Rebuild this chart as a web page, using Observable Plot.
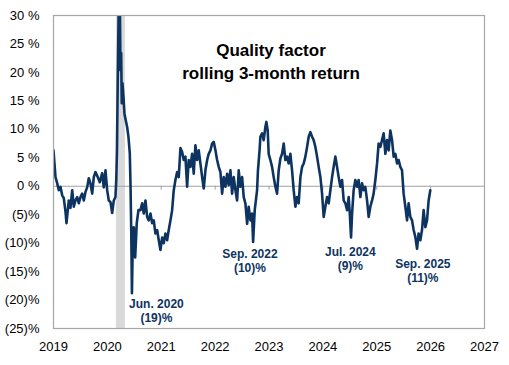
<!DOCTYPE html>
<html>
<head>
<meta charset="utf-8">
<script src="https://cdn.jsdelivr.net/npm/d3@7"></script>
<script src="https://cdn.jsdelivr.net/npm/@observablehq/plot@0.6"></script>
<style>
  html, body { margin: 0; padding: 0; background: #fff; }
  #chart { width: 509px; height: 365px; }
</style>
</head>
<body>
<div id="chart"></div>
<script>
const titleLines = ["Quality factor", "rolling 3-month return"];

// decimal-year dates
const dates = [
  2019.000, 2019.037, 2019.069, 2019.098, 2019.130, 2019.161, 2019.191, 2019.223, 2019.241, 2019.284,
  2019.315, 2019.347, 2019.377, 2019.408, 2019.440, 2019.469, 2019.501, 2019.532, 2019.562, 2019.594,
  2019.625, 2019.655, 2019.686, 2019.718, 2019.748, 2019.779, 2019.822, 2019.859, 2019.904, 2019.933,
  2019.965, 2019.996, 2020.026, 2020.058, 2020.089, 2020.119, 2020.150, 2020.165, 2020.178, 2020.193,
  2020.211, 2020.230, 2020.243, 2020.256, 2020.267, 2020.280, 2020.299, 2020.317, 2020.341, 2020.367,
  2020.392, 2020.416, 2020.429, 2020.442, 2020.456, 2020.471, 2020.490, 2020.516, 2020.545, 2020.577,
  2020.614, 2020.646, 2020.675, 2020.707, 2020.738, 2020.768, 2020.800, 2020.831, 2020.861, 2020.892,
  2020.924, 2020.954, 2020.985, 2021.017, 2021.046, 2021.078, 2021.109, 2021.139, 2021.171, 2021.202,
  2021.232, 2021.263, 2021.295, 2021.325, 2021.356, 2021.388, 2021.417, 2021.449, 2021.480, 2021.510,
  2021.542, 2021.573, 2021.603, 2021.634, 2021.666, 2021.696, 2021.727, 2021.759, 2021.789, 2021.820,
  2021.852, 2021.881, 2021.913, 2021.944, 2021.974, 2022.006, 2022.037, 2022.067, 2022.098, 2022.130,
  2022.160, 2022.191, 2022.223, 2022.252, 2022.284, 2022.315, 2022.345, 2022.377, 2022.408, 2022.438,
  2022.469, 2022.501, 2022.531, 2022.562, 2022.594, 2022.623, 2022.655, 2022.686, 2022.705, 2022.735,
  2022.779, 2022.795, 2022.825, 2022.840, 2022.872, 2022.901, 2022.933, 2022.951, 2022.976, 2022.994,
  2023.026, 2023.057, 2023.087, 2023.119, 2023.150, 2023.180, 2023.212, 2023.243, 2023.273, 2023.304,
  2023.336, 2023.365, 2023.397, 2023.428, 2023.458, 2023.490, 2023.521, 2023.551, 2023.583, 2023.614,
  2023.644, 2023.675, 2023.707, 2023.737, 2023.768, 2023.800, 2023.829, 2023.861, 2023.892, 2023.922,
  2023.954, 2023.985, 2024.015, 2024.046, 2024.078, 2024.108, 2024.139, 2024.171, 2024.200, 2024.232,
  2024.263, 2024.293, 2024.325, 2024.356, 2024.386, 2024.417, 2024.449, 2024.479, 2024.501, 2024.523,
  2024.542, 2024.571, 2024.603, 2024.635, 2024.664, 2024.696, 2024.727, 2024.757, 2024.788, 2024.820,
  2024.850, 2024.881, 2024.913, 2024.942, 2024.974, 2025.006, 2025.035, 2025.067, 2025.098, 2025.128,
  2025.160, 2025.191, 2025.221, 2025.252, 2025.284, 2025.314, 2025.345, 2025.377, 2025.406, 2025.438,
  2025.469, 2025.499, 2025.531, 2025.562, 2025.592, 2025.623, 2025.655, 2025.685, 2025.716, 2025.748,
  2025.777, 2025.809, 2025.840, 2025.870, 2025.902, 2025.933, 2025.963, 2025.994
];

// rolling 3-month return, %
const returns = [
   6.3,  1.6,  0.5, -0.7, -0.1, -1.6, -2.1, -4.5, -6.5, -2.5,
  -3.8, -0.7, -3.6, -2.5, -1.9, -3.0, -1.9, -1.3, -2.5, -1.0,
  -0.2,  1.4,  0.5, -1.3,  1.6,  2.5,  1.6,  0.7,  2.3, -0.2,
   2.8, -0.7, -2.5, -2.8, -4.7, -2.5, -1.9,  1.1,  6.3, 19.0,
  32.0, 34.0, 20.4, 23.4, 14.6, 18.1, 15.7, 12.8, 11.6, 10.4,
   8.6,  5.8,  0.5, -7.2,-18.8,-10.0, -7.2,-12.5, -6.5, -4.2,
  -4.2, -3.0, -4.8, -2.5, -5.4, -6.0, -4.8, -6.5, -6.0, -8.3,
  -7.7, -9.5,-11.2, -9.0,-10.0, -8.3, -9.5, -7.7, -6.0, -4.2,
  -0.7,  1.1,  2.5,  1.6,  6.7,  6.0,  4.6,  5.2, -0.1,  4.6,
   3.4,  5.7,  2.2,  7.2,  4.6,  6.3,  4.0,  1.6, -0.4,  2.8,
   4.6,  5.7,  6.3,  7.5,  7.8,  6.3,  4.6,  3.4,  2.5, -1.3,
   1.6, -0.1,  2.2,  0.2,  2.8, -1.3,  1.6, -0.7, -2.5,  2.8,
  -0.1,  1.6, -1.9, -3.0, -6.6, -3.6, -6.0, -4.8, -9.8, -4.2,
  -0.7,  2.8,  6.3,  8.7,  9.3,  8.1, 10.4, 11.3,  9.8,  5.7,
   4.6,  3.4,  1.6, -0.1, -1.3,  2.8,  4.9,  5.7,  7.5,  4.6,
   5.2,  4.0,  5.7,  2.8, -0.7, -3.6, -1.9, -3.0,  1.6,  3.4,
   4.0,  5.2,  6.9,  8.7,  9.5,  8.7,  8.1,  6.9,  5.2,  3.4,
   1.6, -1.3, -5.4, -3.6, -1.9, -3.0, -0.7,  1.6,  3.4,  5.2,
   3.4,  1.6, -0.1,  1.1, -2.5, -3.0, -4.2, -1.9, -5.0, -9.0,
  -4.8, -0.7,  1.1, -0.1,  1.1, -1.9,  0.5, -0.7, -0.1, -2.5,
  -5.4, -3.6, -2.5, -1.3,  1.1,  4.0,  7.5,  6.9,  8.1,  9.3,
   5.7,  8.1,  6.3,  9.8,  8.1,  5.2,  5.7,  4.0,  4.6,  3.4,
   2.8, -1.3, -3.6, -6.0, -3.0, -5.4, -6.0, -7.7, -8.9,-11.0,
  -8.3, -9.5, -7.7, -4.2, -7.2, -6.0, -2.5, -0.7
];

const yearTicks = [2019, 2020, 2021, 2022, 2023, 2024, 2025, 2026, 2027];
const pctTicks = [-25, -20, -15, -10, -5, 0, 5, 10, 15, 20, 25, 30];

// shaded period (spring 2020)
const shadeStart = [2020.168];
const shadeEnd = [2020.334];

// annotations
const annoLabels = ["Jun. 2020\n(19)%", "Sep. 2022\n(10)%", "Jul. 2024\n(9)%", "Sep. 2025\n(11)%"];
const annoX = [2020.91, 2022.646, 2024.51, 2025.855];
const annoY = [-21.8, -13.0, -12.65, -14.76];

const series = dates.map((d, i) => ({date: d, value: returns[i]}));
const shade = shadeStart.map((s, i) => ({x1: s, x2: shadeEnd[i]}));
const annos = annoLabels.map((t, i) => ({text: t, x: annoX[i], y: annoY[i]}));

const navy = "#0d3461";
const font = "'Liberation Sans', Arial, sans-serif";

const chart = Plot.plot({
  width: 509,
  height: 365,
  marginLeft: 53,
  marginRight: 25,
  marginTop: 15,
  marginBottom: 37,
  style: {fontFamily: font, fontSize: "13px", color: "#000", background: "#fff"},
  x: {domain: [2019, 2027]},
  y: {domain: [-25, 30]},
  marks: [
    Plot.rect(shade, {x1: "x1", x2: "x2", fill: "#d9d9d9"}),
    Plot.ruleY([0], {stroke: "#a0a0a0", strokeWidth: 1.2}),
    Plot.ruleX(yearTicks, {x: d => d, y1: 0, y2: -0.7, stroke: "#a0a0a0"}),
    Plot.line(series, {x: "date", y: "value", stroke: navy, strokeWidth: 2.6, clip: true, curve: "linear", strokeLinejoin: "round"}),
    Plot.frame({stroke: "#a6a6a6", strokeWidth: 1.2}),
    Plot.axisY({ticks: pctTicks, tickSize: 0, tickPadding: 14, label: null,
      tickFormat: d => d >= 0 ? `${d} %` : `(${-d})%`, fontSize: 13}),
    Plot.axisX({ticks: yearTicks, tickSize: 0, tickPadding: 13, label: null,
      tickFormat: d3.format("d"), fontSize: 13}),
    Plot.text(annos, {x: "x", y: "y", text: "text", fill: navy, fontWeight: "bold",
      fontSize: 12, lineHeight: 1.17, textAnchor: "middle"}),
    Plot.text([titleLines.join("\n")], {frameAnchor: "top", dx: 2, dy: 24,
      fontSize: 17, fontWeight: "bold", fill: "#000", lineHeight: 1.35, lineAnchor: "top"})
  ]
});
document.getElementById("chart").appendChild(chart);
</script>
</body>
</html>
